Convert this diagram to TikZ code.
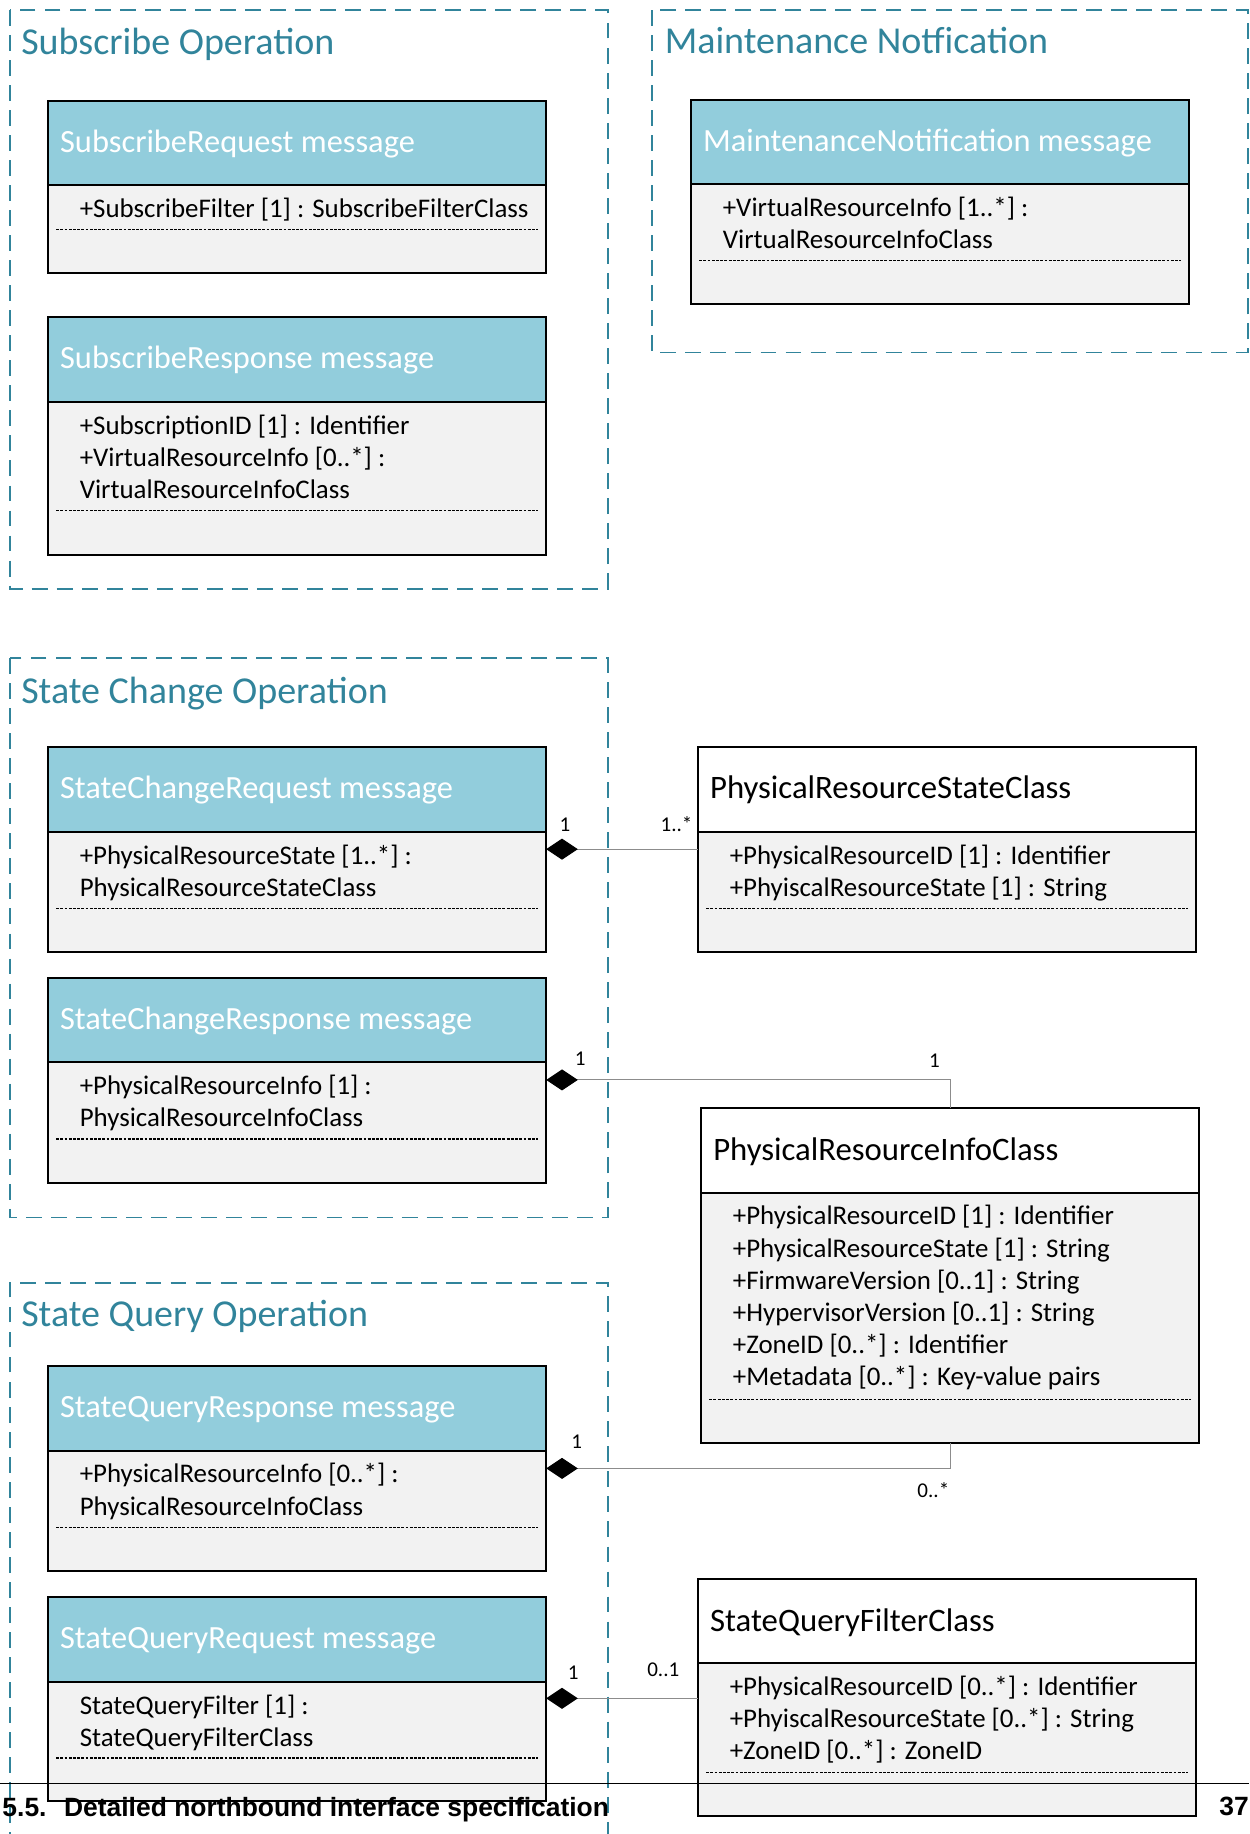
\documentclass[tikz,border=0pt]{standalone}
\usepackage{fontspec}
\setmainfont{Carlito}
\newfontfamily\footfont{Liberation Sans}
\usetikzlibrary{arrows.meta}
\definecolor{tealx}{HTML}{31849B}
\definecolor{hdrfill}{HTML}{92CDDC}
\definecolor{bodyfill}{HTML}{F2F2F2}
\definecolor{conn}{HTML}{8C8C8C}
\tikzset{
  frame/.style={draw=tealx, line width=0.75pt, dash pattern=on 6.8pt off 3.9pt},
  frametitle/.style={text=tealx, font=\fontsize{16.25}{19}\selectfont, inner sep=0pt, anchor=base west},
  boxbase/.style={draw=black, line width=0.85pt, minimum width=213pt, inner sep=0pt, outer sep=0pt},
  msghdr/.style={boxbase, fill=hdrfill},
  clshdr/.style={boxbase, fill=white},
  body/.style={boxbase, fill=bodyfill},
  msgtitle/.style={text=white, font=\fontsize{13.85}{17}\selectfont, inner sep=0pt, anchor=base west},
  clstitle/.style={text=black, font=\fontsize{14}{17}\selectfont, inner sep=0pt, anchor=base west},
  attr/.style={font=\fontsize{11.5}{14}\selectfont, inner sep=0pt, anchor=base west},
  sepline/.style={line width=0.45pt, dash pattern=on 1.2pt off 0.6pt},
  assoc/.style={draw=conn, line width=0.45pt, arrows={Diamond[length=13.5pt,width=9pt,color=black,fill=black]-}},
  mult/.style={font=\fontsize{9}{11}\selectfont, inner sep=0pt, anchor=base west},
  footer/.style={font=\footfont\bfseries\fontsize{11.3}{13}\selectfont, inner sep=0pt},
}
% #1 name, #2 x, #3 top, #4 divider, #5 bottom, #6 kind, #7 title, #8 attributes, #9 separator y
\newcommand{\umlbox}[9]{%
  \pgfmathsetmacro\umlhh{(#4-#3)*0.5}%
  \pgfmathsetmacro\umlbh{(#5-#4)*0.5}%
  \node[#6hdr, minimum height=\umlhh pt, anchor=north west] (#1h) at (#2,#3) {};
  \node[body, minimum height=\umlbh pt, anchor=north west] (#1b) at (#2,#4) {};
  \node[#6title] (#1t) at ({#2+10},{#3+44.4}) {#7};
  \foreach \t [count=\i] in {#8} {\node[attr] (#1a\i) at ({#2+26.8},{#4+27.5+(\i-1)*27.5}) {\t};}
  \draw[sepline] ({#2+7},#9) -- ({#2+419},#9);
}
\begin{document}
\begin{tikzpicture}[x=0.5pt,y=-0.5pt]
\useasboundingbox (0,0) rectangle (1068,1568);

% frames
\draw[frame] (8.5,8.5) rectangle (519.5,503.5);
\node[frametitle] (t1) at (17.8,47) {Subscribe Operation};
\draw[frame] (557.7,8.6) rectangle (1067,301.3);
\node[frametitle] (t2) at (568,45.6) {Maintenance Notfication};
\draw[frame] (8.5,562.7) rectangle (519.5,1041);
\node[frametitle] (t3) at (17.8,601.5) {State Change Operation};
\draw[frame] (8.5,1580) -- (8.5,1096.7) -- (519.5,1096.7) -- (519.5,1580);
\node[frametitle] (t4) at (17.8,1134.4) {State Query Operation};

% message boxes
\umlbox{srq}{41}{86.2}{158.5}{233.8}{msg}{SubscribeRequest message}{{+SubscribeFilter [1] : SubscribeFilterClass}}{196.3}
\umlbox{srs}{41}{270.7}{343.7}{474.2}{msg}{SubscribeResponse message}{{+SubscriptionID [1] : Identifier},{+VirtualResourceInfo [0..*] :},{VirtualResourceInfoClass}}{436.7}
\umlbox{mn}{590.8}{85.5}{157.6}{260}{msg}{MaintenanceNotification message}{{+VirtualResourceInfo [1..*] :},{VirtualResourceInfoClass}}{222.9}
\umlbox{scrq}{41}{638.7}{711.3}{814.3}{msg}{StateChangeRequest message}{{+PhysicalResourceState [1..*] :},{PhysicalResourceStateClass}}{776.8}
\umlbox{scrs}{41}{836}{908.3}{1011.6}{msg}{StateChangeResponse message}{{+PhysicalResourceInfo [1] :},{PhysicalResourceInfoClass}}{973.8}
\umlbox{sqrs}{41}{1167.7}{1240.3}{1343}{msg}{StateQueryResponse message}{{+PhysicalResourceInfo [0..*] :},{PhysicalResourceInfoClass}}{1306}
\umlbox{sqrq}{41}{1365.3}{1437.9}{1539.7}{msg}{StateQueryRequest message}{{StateQueryFilter [1] :},{StateQueryFilterClass}}{1503}

% class boxes
\umlbox{psc}{596.7}{638.7}{711.6}{814}{cls}{PhysicalResourceStateClass}{{+PhysicalResourceID [1] : Identifier},{+PhyiscalResourceState [1] : String}}{776.4}
\umlbox{pic}{599.4}{947.7}{1019.7}{1233.9}{cls}{PhysicalResourceInfoClass}{{+PhysicalResourceID [1] : Identifier},{+PhysicalResourceState [1] : String},{+FirmwareVersion [0..1] : String},{+HypervisorVersion [0..1] : String},{+ZoneID [0..*] : Identifier},{+Metadata [0..*] : Key-value pairs}}{1196.6}
\umlbox{sqf}{596.7}{1350.2}{1422.2}{1552.8}{cls}{StateQueryFilterClass}{{+PhysicalResourceID [0..*] : Identifier},{+PhyiscalResourceState [0..*] : String},{+ZoneID [0..*] : ZoneID}}{1515.5}

% connectors
\draw[assoc] (scrqb.east |- 0,726) -- (pscb.west |- 0,726);
\draw[assoc] (scrsb.east |- 0,923.3) -| (pich.north);
\draw[assoc] (sqrsb.east |- 0,1255.4) -| (picb.south);
\draw[assoc] (sqrqb.east |- 0,1452) -- (sqfb.west |- 0,1452);

% multiplicities
\node[mult] (m1a) at (478,711) {1};
\node[mult] (m1b) at (564.4,711) {1..*};
\node[mult] (m2a) at (491,910.7) {1};
\node[mult] (m2b) at (794,913) {1};
\node[mult] (m3a) at (488,1238) {1};
\node[mult] (m3b) at (784,1280.3) {0..*};
\node[mult] (m4a) at (485,1435.7) {1};
\node[mult] (m4b) at (553,1433.7) {0..1};

% page footer
\draw[line width=0.5pt] (0,1524.5) -- (1068,1524.5);
\node[footer, anchor=base west] (foot) at (1.7,1553) {5.5.\hspace{7.5pt}Detailed northbound interface specification};
\node[footer, anchor=base east] (pg) at (1068,1552) {37};
\end{tikzpicture}
\end{document}
